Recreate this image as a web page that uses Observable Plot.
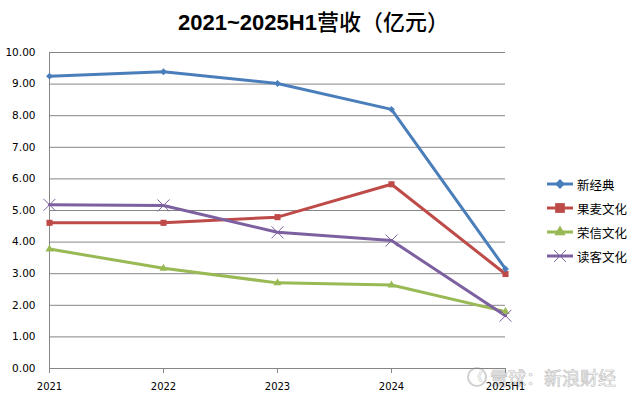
<!DOCTYPE html>
<html>
<head>
<meta charset="utf-8">
<script src="https://cdn.jsdelivr.net/npm/d3@7"></script>
<script src="https://cdn.jsdelivr.net/npm/@observablehq/plot@0.6"></script>
<style>
  html, body { margin: 0; padding: 0; background: #fff; }
  #wrap { position: relative; width: 640px; height: 397px; overflow: hidden; background: #fff; }
  #title { position: absolute; left: 0; top: 6px; width: 627px; text-align: center; white-space: nowrap; font-size: 22px; line-height: 28px; color: #000; }
  #title .lat { font-family: "Liberation Sans", Arial, sans-serif; font-weight: bold; }
  #title .cjk { font-family: "Noto Sans CJK SC", sans-serif; font-weight: 500; }
  #chart { position: absolute; left: 0; top: 0; }
  #legend { position: absolute; left: 546px; top: 172px; font-family: "Noto Sans CJK SC", sans-serif; font-size: 12.5px; color: #000; }
  .row { display: flex; align-items: center; height: 24px; }
  .row svg { margin-right: 3px; }
  #wm { position: absolute; left: 467px; top: 365px; display: flex; align-items: center; font-family: "Noto Sans CJK SC", sans-serif; font-size: 18px; line-height: 24px; color: rgba(255,255,255,0.95); -webkit-text-stroke: 0.7px #c4c4c4; white-space: nowrap; }
  #wm .logo { width: 20px; height: 20px; border: 2px solid #cfcfcf; border-radius: 50%; margin-right: 3px; box-sizing: border-box; font-size: 12px; line-height: 16px; text-align: center; color: #cfcfcf; -webkit-text-stroke: 0; }
</style>
</head>
<body>
<div id="wrap">
  <div id="wm"><span class="logo">《</span><span>雪球：新浪财经</span></div>
  <div id="chart"></div>
  <div id="title"><span class="lat">2021~2025H1</span><span class="cjk">营收（亿元）</span></div>
  <div id="legend"></div>
</div>
<script>
const years = ["2021", "2022", "2023", "2024", "2025H1"];
const companies = ["新经典", "果麦文化", "荣信文化", "读客文化"];
const xinjingdian = [9.25, 9.39, 9.02, 8.20, 3.15];
const guomai = [4.61, 4.61, 4.79, 5.83, 2.99];
const rongxin = [3.78, 3.17, 2.71, 2.64, 1.80];
const duke = [5.18, 5.16, 4.31, 4.05, 1.67];
const yTicks = [0, 1, 2, 3, 4, 5, 6, 7, 8, 9, 10];

const colors = ["#4A7EBB", "#BE4B48", "#98B954", "#7D60A0"];
const symbols = ["diamond2", "square", "triangle", "times"];
const seriesValues = [xinjingdian, guomai, rongxin, duke];

const data = [];
companies.forEach((c, i) => {
  years.forEach((y, j) => data.push({ company: c, year: y, value: seriesValues[i][j] }));
});

const chart = Plot.plot({
  width: 640,
  height: 397,
  marginTop: 52,
  marginBottom: 29,
  marginLeft: 49,
  marginRight: 135,
  style: { fontFamily: "'DejaVu Sans', sans-serif", fontSize: "10px", background: "transparent", color: "#000" },
  x: { type: "point", domain: years, padding: 0 },
  y: { domain: [0, 10] },
  color: { domain: companies, range: colors },
  symbol: { domain: companies, range: symbols },
  marks: [
    Plot.gridY(yTicks, { stroke: "#868686", strokeOpacity: 1, strokeWidth: 1 }),
    Plot.ruleX([years[0]], { stroke: "#868686", strokeWidth: 1 }),
    Plot.axisY(yTicks, { tickFormat: d => d.toFixed(2), tickSize: 0, tickPadding: 14, fontSize: 10.5, fill: "#000", label: null }),
    Plot.axisX({ tickSize: 5, tickPadding: 9, stroke: "#868686", fill: "#000", fontSize: 10, label: null }),
    Plot.line(data, { x: "year", y: "value", z: "company", stroke: "company", strokeWidth: 3 }),
    Plot.dot(data.filter(d => d.company !== "读客文化"), {
      x: "year", y: "value", symbol: "company", fill: "company", stroke: "none",
      r: d => d.company === "果麦文化" ? 5.5 : (d.company === "新经典" ? 4.4 : 4.2)
    }),
    Plot.dot(data.filter(d => d.company === "读客文化"), {
      x: "year", y: "value", symbol: "company", stroke: "company", fill: "none", strokeWidth: 1, r: 5.5
    })
  ]
});
document.getElementById("chart").appendChild(chart);

// legend
const legend = d3.select("#legend");
const rSize = [4.4, 5.5, 4.2, 5.5];
const d3sym = { diamond2: d3.symbolDiamond2, square: d3.symbolSquare, triangle: d3.symbolTriangle, times: d3.symbolTimes };
companies.forEach((c, i) => {
  const row = legend.append("div").attr("class", "row");
  const svg = row.append("svg").attr("width", 28).attr("height", 14);
  svg.append("line").attr("x1", 1).attr("x2", 27).attr("y1", 7).attr("y2", 7)
    .attr("stroke", colors[i]).attr("stroke-width", 3);
  const path = d3.symbol(d3sym[symbols[i]], Math.PI * rSize[i] * rSize[i])();
  const p = svg.append("path").attr("d", path).attr("transform", "translate(14,7)");
  if (symbols[i] === "times") p.attr("fill", "none").attr("stroke", colors[i]).attr("stroke-width", 1);
  else p.attr("fill", colors[i]);
  row.append("span").text(c);
});
</script>
</body>
</html>
